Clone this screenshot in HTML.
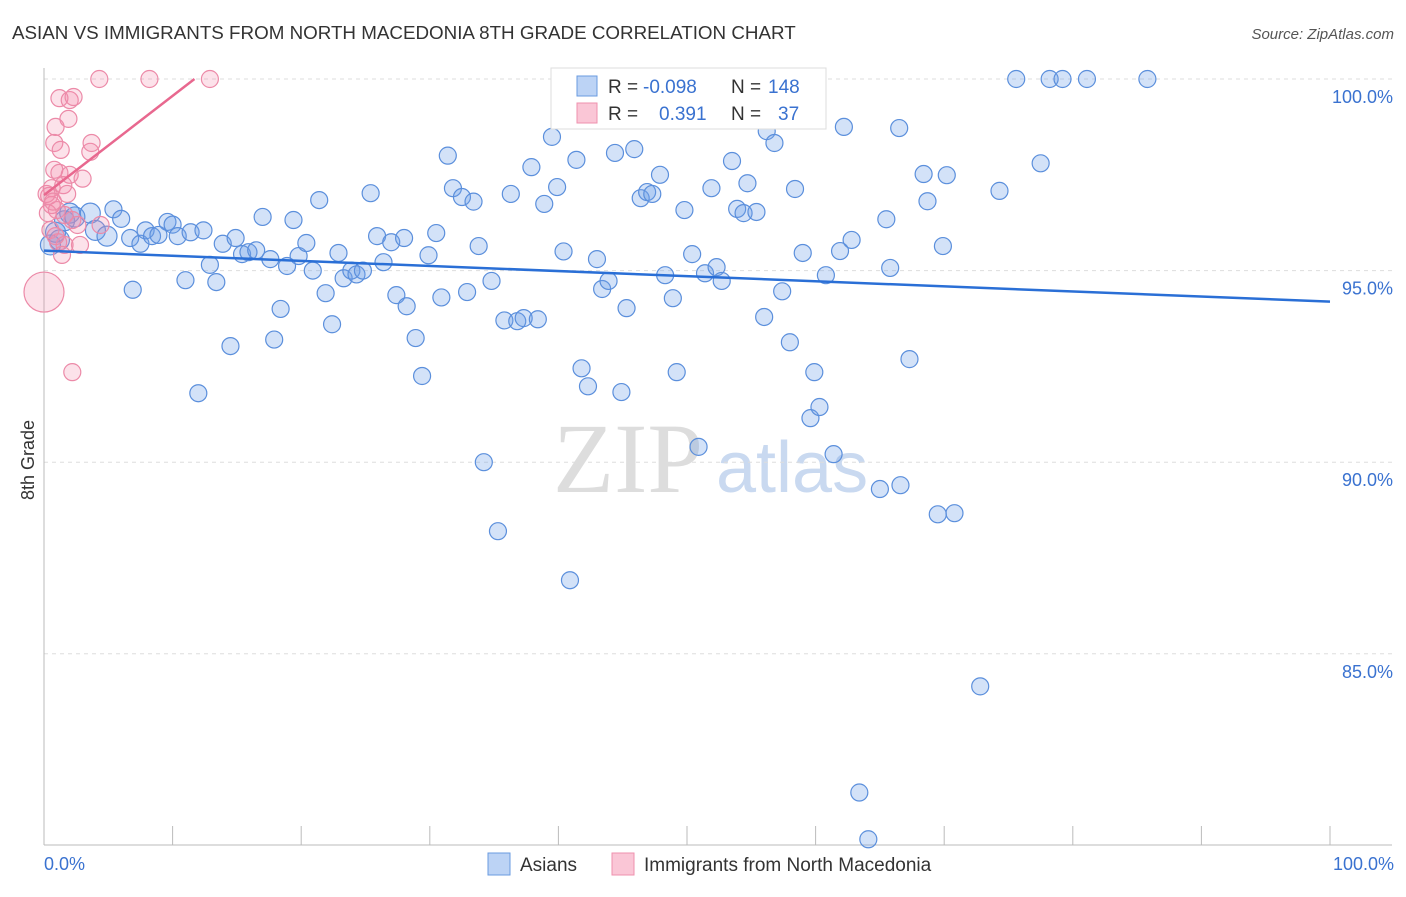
<!DOCTYPE html>
<html><head><meta charset="utf-8"><style>
body{margin:0;background:#fff;font-family:"Liberation Sans",sans-serif}
</style></head><body>
<svg id="c" width="1406" height="892" xmlns="http://www.w3.org/2000/svg">
<text x="12" y="39" font-size="18.8" fill="#333">ASIAN VS IMMIGRANTS FROM NORTH MACEDONIA 8TH GRADE CORRELATION CHART</text>
<text x="1394" y="39" font-size="15" fill="#555" font-style="italic" text-anchor="end">Source: ZipAtlas.com</text>
<text x="553" y="492" font-size="100" fill="#ddd" font-family="Liberation Serif">ZIP</text>
<text x="716" y="492" font-size="72" fill="#c9d9f0">atlas</text>
<g id="grid"></g>
<g id="axes"></g>
<g id="marks"></g>
<text x="34" y="460" font-size="18" fill="#333" text-anchor="middle" transform="rotate(-90 34 460)">8th Grade</text>
<text x="44" y="870" font-size="18" fill="#3a72d0">0.0%</text>
<text x="1394" y="870" font-size="18" fill="#3a72d0" text-anchor="end">100.0%</text>
<g>
<rect x="551" y="68" width="275" height="61" fill="#fff" stroke="#ddd"/>
<rect x="577" y="76" width="20" height="20" fill="#bcd3f5" stroke="#6a9be0"/>
<rect x="577" y="103" width="20" height="20" fill="#fac6d6" stroke="#ef90ae"/>
<text x="608" y="93" font-size="19" fill="#333">R =</text>
<text x="643" y="93" font-size="19" fill="#3a72d0">-0.098</text>
<text x="731" y="93" font-size="19" fill="#333">N =</text>
<text x="768" y="93" font-size="19" fill="#3a72d0">148</text>
<text x="608" y="120" font-size="19" fill="#333">R =</text>
<text x="659" y="120" font-size="19" fill="#3a72d0">0.391</text>
<text x="731" y="120" font-size="19" fill="#333">N =</text>
<text x="778" y="120" font-size="19" fill="#3a72d0">37</text>
</g>
<g>
<rect x="488" y="853" width="22" height="22" fill="#bcd3f5" stroke="#6a9be0"/>
<text x="520" y="871" font-size="19" fill="#333">Asians</text>
<rect x="612" y="853" width="22" height="22" fill="#fac6d6" stroke="#ef90ae"/>
<text x="644" y="871" font-size="19" fill="#333">Immigrants from North Macedonia</text>
</g>
</svg>
<script>
const yTicks=[100,95,90,85];
const yTickLabels=["100.0%","95.0%","90.0%","85.0%"];
const xTicks=[0,10,20,30,40,50,60,70,80,90,100];
const asianX=[0.5,0.9,1.2,1.6,2.0,2.4,3.6,4.0,4.9,5.4,6.0,6.7,6.9,7.5,7.9,8.4,8.9,9.6,10.0,10.4,11.0,11.4,12.0,12.4,12.9,13.4,13.9,14.5,14.9,15.4,15.9,16.5,17.0,17.6,17.9,18.4,18.9,19.4,19.8,20.4,20.9,21.4,21.9,22.4,22.9,23.3,23.9,24.3,24.8,25.4,25.9,26.4,27.0,27.4,28.0,28.2,28.9,29.4,29.9,30.5,30.9,31.4,31.8,32.5,32.9,33.4,33.8,34.2,34.8,35.3,35.8,36.3,36.8,37.3,37.9,38.4,38.9,39.5,39.9,40.4,40.9,41.4,41.8,42.3,43.0,43.4,43.9,44.4,44.9,45.3,45.9,46.4,46.9,47.3,47.9,48.3,48.9,49.2,49.8,50.4,50.9,51.4,51.9,52.3,52.7,53.5,53.9,54.4,54.7,55.4,56.0,56.2,56.8,57.4,58.0,58.4,59.0,59.6,59.9,60.3,60.8,61.4,61.9,62.2,62.8,63.4,64.1,65.0,65.5,65.8,66.5,66.6,67.3,68.4,68.7,69.5,69.9,70.2,70.8,72.8,74.3,75.6,77.5,78.2,79.2,81.1,85.8];
const asianY=[95.67,96.0,95.8,96.3,96.5,96.4,96.5,96.05,95.9,96.6,96.35,95.85,94.5,95.7,96.05,95.9,95.93,96.27,96.2,95.9,94.75,96.0,91.8,96.05,95.15,94.7,95.7,93.03,95.85,95.43,95.48,95.53,96.4,95.3,93.2,94.0,95.12,96.32,95.38,95.72,95.0,96.84,94.41,93.6,95.46,94.8,95.0,94.9,95.0,97.02,95.9,95.22,95.74,94.36,95.85,94.07,93.24,92.25,95.4,95.98,94.3,98.0,97.15,96.92,94.44,96.8,95.64,90.0,94.73,88.2,93.7,97.0,93.68,93.76,97.7,93.73,96.74,98.49,97.18,95.5,86.92,97.89,92.45,91.98,95.3,94.52,94.73,98.07,91.83,94.02,98.17,96.89,97.05,97.0,97.5,94.88,94.28,92.35,96.58,95.43,90.4,94.93,97.15,95.09,94.73,97.86,96.61,96.5,97.28,96.53,93.79,98.64,98.33,94.46,93.13,97.13,95.46,91.15,92.35,91.44,94.88,90.21,95.51,98.75,95.8,81.38,80.16,89.3,96.34,95.07,98.72,89.4,92.69,97.52,96.81,88.64,95.64,97.49,88.67,84.15,97.08,100,97.8,100,100,100,100];
const macX=[0,2.2,4.3,8.2,12.9,1.2,2.0,2.3,0.9,1.9,0.8,1.3,3.6,3.7,0.8,1.2,2.0,0.6,1.5,0.4,0.6,1.0,1.6,2.2,2.6,4.4,0.5,1.1,1.6,2.8,1.4,0.3,0.2,0.7,3.0,1.8,0.9];
const macY=[94.44,92.35,100,100,100,99.5,99.45,99.53,98.75,98.96,98.33,98.15,98.1,98.33,97.63,97.55,97.5,97.15,97.23,96.95,96.71,96.58,96.45,96.32,96.19,96.19,96.06,95.74,95.67,95.67,95.41,96.5,97.0,96.8,97.4,97.0,95.9];
const asianTrend=[95.52,94.19];
const macTrend=[96.97,100];
const macTrendEnd=11.7;
const X0=44,X1=1330,Y100=79,PX5=191.6;
const sx=v=>X0+(X1-X0)*v/100;
const sy=v=>Y100+(100-v)*PX5/5;
const NS="http://www.w3.org/2000/svg";
function mk(p,t,a){const e=document.createElementNS(NS,t);for(const k in a)e.setAttribute(k,a[k]);p.appendChild(e);return e;}
const grid=document.getElementById('grid'),axes=document.getElementById('axes'),marks=document.getElementById('marks');
yTicks.forEach((t,i)=>{
 const l=mk(grid,'line',{x1:X0,x2:1392,y1:sy(t),y2:sy(t),stroke:'#ddd','stroke-dasharray':'4,4'});
 
 
 const tx=mk(grid,'text',{x:1393,y:sy(t)+24,'font-size':18,fill:'#3a72d0','text-anchor':'end'});
 tx.textContent=yTickLabels[i];
 
 
});
const ax=mk(axes,'line',{x1:X0,x2:X0,y1:68,y2:845,stroke:'#bbb'});


const bx=mk(axes,'line',{x1:X0,x2:1392,y1:845,y2:845,stroke:'#bbb'});


xTicks.forEach(t=>{const l=mk(axes,'line',{x1:sx(t),x2:sx(t),y1:826,y2:845,stroke:'#bbb'});
 
 });
asianX.forEach((x,i)=>{const c=mk(marks,'circle',{cx:sx(x),cy:sy(asianY[i]),r:(x<5?10:8.5),fill:'rgba(110,160,232,0.3)',stroke:'#5b8fdc','stroke-width':1.2});
 
 });
macX.forEach((x,i)=>{const c=mk(marks,'circle',{cx:sx(x),cy:sy(macY[i]),r:(i===0?20:8.5),fill:'rgba(244,140,170,0.25)',stroke:'#ec8aa8','stroke-width':1.2});
 
 });
const t1=mk(marks,'line',{x1:sx(0),y1:sy(asianTrend[0]),x2:sx(100),y2:sy(asianTrend[1]),stroke:'#2a6fd6','stroke-width':2.5});


const t2=mk(marks,'line',{x1:sx(0),y1:sy(macTrend[0]),x2:sx(macTrendEnd),y2:sy(macTrend[1]),stroke:'#e8688f','stroke-width':2.5});


</script>
</body></html>
